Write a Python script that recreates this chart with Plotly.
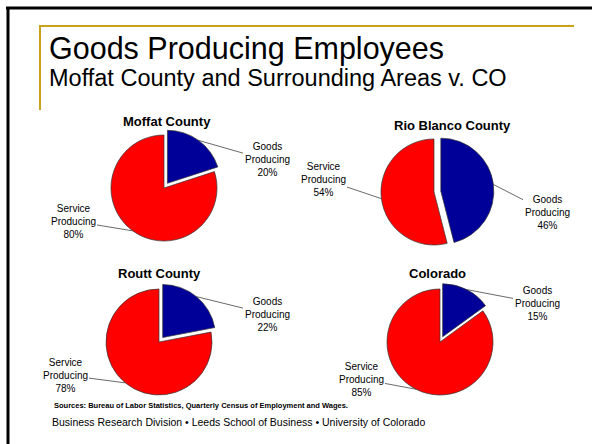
import math
import plotly.graph_objects as go

W, H = 592, 444

# ---- data ----
regions = ["Moffat County", "Rio Blanco County", "Routt County", "Colorado"]
categories = ["Goods Producing", "Service Producing"]
goods_pct = [20, 46, 22, 15]
service_pct = [80, 54, 78, 85]
colors = ["#000099", "#FF0000"]

title_text = "Goods Producing Employees"
subtitle_text = "Moffat County and Surrounding Areas v. CO"
source_text = "Sources: Bureau of Labor Statistics, Quarterly Census of Employment and Wages."
footer_text = "Business Research Division \u2022 Leeds School of Business \u2022 University of Colorado"

# ---- layout (pixel positions) ----
centers = [(164, 188), (434, 192), (159, 342), (440, 342)]
radius = 53
pulls = [0.11, 0.13, 0.11, 0.11]
title_pos = [(167, 121), (452, 125), (159, 273), (437, 273)]
# label centre offsets from pie centre: (goods, service)
label_off = [
    [(103, -28), (-91, 33)],
    [(113, 20), (-111, -13)],
    [(108, -28), (-94, 33)],
    [(97, -39), (-79, 37)],
]


def px(x):
    return x / W


def py(y):
    return 1 - y / H


fig = go.Figure()
annotations = []

for i, name in enumerate(regions):
    cx, cy = centers[i]
    p = pulls[i]
    half = radius * (1 + p)
    vals = [goods_pct[i], service_pct[i]]
    fig.add_trace(go.Pie(
        labels=categories,
        values=vals,
        sort=False,
        direction="clockwise",
        rotation=0,
        pull=[p, 0],
        marker=dict(colors=colors, line=dict(color="#333333", width=0.7)),
        textinfo="none",
        hoverinfo="label+percent",
        showlegend=False,
        domain=dict(x=[px(cx - half), px(cx + half)],
                    y=[py(cy + half), py(cy - half)]),
    ))
    annotations.append(dict(
        x=px(title_pos[i][0]), y=py(title_pos[i][1]), xref="paper", yref="paper",
        text="<b>%s</b>" % name, showarrow=False,
        font=dict(family="Liberation Sans, Arial", size=13, color="black"),
        xanchor="center", yanchor="middle"))
    total = sum(vals)
    cum = 0
    for j, v in enumerate(vals):
        theta = 2 * math.pi * (cum + v / 2) / total
        cum += v
        rr = radius * (1 + (p if j == 0 else 0))
        hx = cx + rr * math.sin(theta)
        hy = cy - rr * math.cos(theta)
        lx = cx + label_off[i][j][0]
        ly = cy + label_off[i][j][1]
        words = categories[j].split(" ")
        txt = "<br>".join(words + ["%d%%" % v])
        annotations.append(dict(
            x=px(hx), y=py(hy), xref="paper", yref="paper",
            ax=lx - hx, ay=ly - hy,
            text=txt, showarrow=True, arrowhead=0, arrowwidth=0.8,
            arrowcolor="#444444", standoff=0, startstandoff=0,
            font=dict(family="Liberation Sans, Arial", size=10, color="black"),
            align="center"))

# slide texts
annotations += [
    dict(x=px(47), y=py(49), xref="paper", yref="paper", text=title_text,
         showarrow=False, xanchor="left", yanchor="middle",
         font=dict(family="Liberation Sans, Arial", size=30.5, color="black")),
    dict(x=px(47), y=py(78), xref="paper", yref="paper", text=subtitle_text,
         showarrow=False, xanchor="left", yanchor="middle",
         font=dict(family="Liberation Sans, Arial", size=23.5, color="black")),
    dict(x=px(52), y=py(405), xref="paper", yref="paper", text="<b>%s</b>" % source_text,
         showarrow=False, xanchor="left", yanchor="middle",
         font=dict(family="Liberation Sans, Arial", size=7.5, color="black")),
    dict(x=px(50), y=py(422), xref="paper", yref="paper", text=footer_text,
         showarrow=False, xanchor="left", yanchor="middle",
         font=dict(family="Liberation Sans, Arial", size=10.5, color="black")),
]

shapes = [
    # black frame
    dict(type="line", xref="paper", yref="paper", x0=px(6), x1=1, y0=py(8), y1=py(8),
         line=dict(color="black", width=3)),
    dict(type="line", xref="paper", yref="paper", x0=px(8), x1=px(8), y0=py(7), y1=0,
         line=dict(color="black", width=3)),
    # gold accents
    dict(type="line", xref="paper", yref="paper", x0=px(40), x1=px(574), y0=py(26), y1=py(26),
         line=dict(color="#C9A21B", width=2)),
    dict(type="line", xref="paper", yref="paper", x0=px(40), x1=px(40), y0=py(25), y1=py(110),
         line=dict(color="#C9A21B", width=2)),
]

fig.update_layout(
    width=W, height=H,
    margin=dict(l=0, r=0, t=0, b=0),
    paper_bgcolor="white", plot_bgcolor="white",
    annotations=annotations, shapes=shapes,
    showlegend=False,
)

fig.write_html("out.html",
               config={"displayModeBar": False},
               post_script="document.body.style.margin='0px';document.body.style.overflow='hidden';")
